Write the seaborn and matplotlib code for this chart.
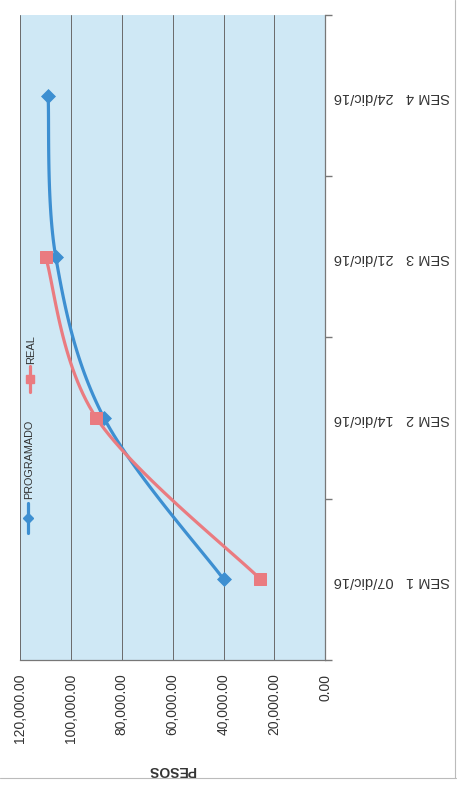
import numpy as np
import pandas as pd
import matplotlib
matplotlib.use("Agg")
import matplotlib.pyplot as plt
import seaborn as sns

# values (PESOS per week)
semanas = ["SEM 1   07/dic/16", "SEM 2   14/dic/16", "SEM 3   21/dic/16", "SEM 4   24/dic/16"]
programado = [40000, 87000, 106000, 109000]
real = [25500, 90000, 110000, np.nan]
ticks = [0, 20000, 40000, 60000, 80000, 100000, 120000]

BLUE = "#3d8fd1"
RED = "#ea7b80"
BG = "#cfe8f5"

sns.set_theme(style="white")
plt.rcParams["font.family"] = ["Liberation Sans", "DejaVu Sans"]


def smooth(vals, n=30):
    """Catmull-Rom curve through the points (like Excel 'smoothed line')."""
    pts = [(v / 20000 * 51.0, i * 161.0) for i, v in enumerate(vals) if not np.isnan(v)]
    pts = np.array(pts)
    ext = np.vstack([pts[0], pts, pts[-1]])
    out = []
    for k in range(1, len(ext) - 2):
        p0, p1, p2, p3 = ext[k - 1], ext[k], ext[k + 1], ext[k + 2]
        t = np.linspace(0, 1, n)[:, None]
        seg = 0.5 * ((2 * p1) + (-p0 + p2) * t + (2 * p0 - 5 * p1 + 4 * p2 - p3) * t ** 2
                     + (-p0 + 3 * p1 - 3 * p2 + p3) * t ** 3)
        out.append(seg)
    out = np.vstack(out)
    return out[:, 0] / 51.0 * 20000, out[:, 1] / 161.0


df = pd.DataFrame({"idx": range(len(semanas)), "PROGRAMADO": programado, "REAL": real})

fig = plt.figure(figsize=(4.58, 7.92), dpi=100)
ax = fig.add_axes([0.044, 0.167, 0.666, 0.814])
ax.set_facecolor(BG)

for v in ticks:
    ax.axvline(v, color="#6a6a6a", lw=0.7, zorder=1)

for col, color in [("PROGRAMADO", BLUE), ("REAL", RED)]:
    sx, sy = smooth(df[col].values)
    ax.plot(sx, sy, color=color, lw=2.3, zorder=3, solid_capstyle="round")

sns.scatterplot(data=df, x="PROGRAMADO", y="idx", marker="D", s=50, color=BLUE,
                edgecolor=BLUE, ax=ax, zorder=4)
sns.scatterplot(data=df.dropna(), x="REAL", y="idx", marker="s", s=80, color=RED,
                edgecolor=RED, ax=ax, zorder=5)

ax.set_xlim(120000, 0)
ax.set_ylim(-0.5, 3.5)
ax.set_xticks(ticks)
ax.set_xticklabels([f"{t:,.2f}" for t in ticks], rotation=90, fontsize=10, color="#333333")
ax.set_yticks(range(len(semanas)))
ax.set_yticklabels(semanas, rotation=180, fontsize=10.5, color="#333333")
ax.set_yticks([-0.5, 0.5, 1.5, 2.5, 3.5], minor=True)
ax.yaxis.tick_right()
ax.tick_params(axis="y", which="major", length=0, pad=6)
ax.tick_params(axis="y", which="minor", length=5, color="#777777", direction="out")
ax.tick_params(axis="x", length=5, color="#777777", direction="out", pad=5)
ax.set_xlabel("PESOS", rotation=180, fontsize=10, fontweight="bold", color="#333333", labelpad=14)
ax.set_ylabel("")

for side in ["top", "left"]:
    ax.spines[side].set_visible(False)
ax.spines["right"].set_color("#777777")
ax.spines["bottom"].set_color("#777777")
ax.spines["right"].set_linewidth(0.9)
ax.spines["bottom"].set_linewidth(0.9)

# legend drawn vertically, as in the scan
ax.plot([0.026, 0.026], [0.197, 0.243], transform=ax.transAxes, color=BLUE, lw=2.3, clip_on=False)
ax.plot([0.026], [0.220], transform=ax.transAxes, marker="D", ms=5.5, color=BLUE, clip_on=False)
ax.text(0.03, 0.250, "PROGRAMADO", transform=ax.transAxes, rotation=90, ha="center", va="bottom",
        fontsize=7.8, color="#333333")
ax.plot([0.032, 0.032], [0.416, 0.455], transform=ax.transAxes, color=RED, lw=2.3, clip_on=False)
ax.plot([0.032], [0.436], transform=ax.transAxes, marker="s", ms=5.5, color=RED, clip_on=False)
ax.text(0.036, 0.458, "REAL", transform=ax.transAxes, rotation=90, ha="center", va="bottom",
        fontsize=8, color="#333333")

# outer chart border
fig.add_artist(plt.Line2D([0.0, 0.995], [0.018, 0.018], color="#bbbbbb", lw=0.8))
fig.add_artist(plt.Line2D([0.994, 0.994], [0.018, 1.0], color="#bbbbbb", lw=0.8))

fig.savefig("out.png", dpi=100)
